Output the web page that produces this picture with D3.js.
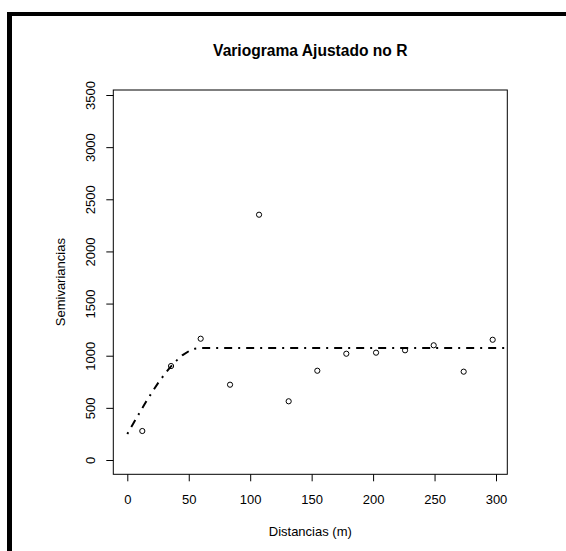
<!DOCTYPE html>
<html>
<head>
<meta charset="utf-8">
<script src="https://cdn.jsdelivr.net/npm/d3@7"></script>
<style>
  html, body { margin: 0; padding: 0; background: #fff; }
  svg { display: block; }
  text { font-family: "Liberation Sans", Arial, Helvetica, sans-serif; fill: #000; }
</style>
</head>
<body>
<script>
// ---- data ----
const distances = [12.2, 35.6, 59.7, 83.6, 107.2, 131.3, 154.6, 178.2, 202.4, 226.0, 249.3, 273.7, 297.3];
const semivariances = [278, 901, 1163, 722, 2352, 563, 856, 1019, 1029, 1052, 1100, 847, 1153];
const modelDistances = [0, 5, 10, 15, 20, 25, 30, 35, 40, 45, 50, 55, 60, 320];
const modelValues = [250, 353, 454, 553, 647, 737, 817, 890, 953, 1006, 1043, 1067, 1075, 1075];
const xTicks = [0, 50, 100, 150, 200, 250, 300];
const yTicks = [0, 500, 1000, 1500, 2000, 2500, 3000, 3500];
const titleText = "Variograma Ajustado no R";
const xLabel = "Distancias (m)";
const yLabel = "Semivariancias";

// ---- layout ----
const W = 566, H = 551;
const box = { left: 113.3, right: 507.3, top: 90, bottom: 474.3 };

const svg = d3.select("body").append("svg").attr("width", W).attr("height", H);
svg.append("rect").attr("width", W).attr("height", H).attr("fill", "#fff");

// outer black frame (left + top)
svg.append("rect").attr("x", 7).attr("y", 12).attr("width", W - 7).attr("height", 4).attr("fill", "#000");
svg.append("rect").attr("x", 7).attr("y", 12).attr("width", 5).attr("height", H - 12).attr("fill", "#000");

const x = d3.scaleLinear().domain([0, 300]).range([127.3, 496]);
const y = d3.scaleLinear().domain([0, 3500]).range([460, 95]);

// clip for plot region
svg.append("clipPath").attr("id", "plotclip").append("rect")
  .attr("x", box.left).attr("y", box.top)
  .attr("width", box.right - box.left).attr("height", box.bottom - box.top);

// box
svg.append("rect")
  .attr("x", box.left).attr("y", box.top)
  .attr("width", box.right - box.left).attr("height", box.bottom - box.top)
  .attr("fill", "none").attr("stroke", "#000").attr("stroke-width", 1);

// x axis
const xAxis = d3.axisBottom(x).tickValues(xTicks).tickSize(7).tickPadding(13).tickFormat(d3.format("d"));
const gx = svg.append("g").attr("transform", `translate(0,${box.bottom})`).call(xAxis);
gx.selectAll("text").attr("font-size", 13).attr("font-family", "Liberation Sans, Arial, sans-serif");
gx.select(".domain").remove();
gx.selectAll("line").attr("stroke", "#000");

// y axis
const yAxis = d3.axisLeft(y).tickValues(yTicks).tickSize(7).tickFormat(d3.format("d"));
const gy = svg.append("g").attr("transform", `translate(${box.left},0)`).call(yAxis);
gy.select(".domain").remove();
gy.selectAll("line").attr("stroke", "#000");
gy.selectAll("text")
  .attr("font-size", 13).attr("font-family", "Liberation Sans, Arial, sans-serif")
  .attr("x", null).attr("dy", null)
  .attr("text-anchor", "middle")
  .attr("transform", "translate(-18,0) rotate(-90)");

// model line
const line = d3.line().x((d, i) => x(modelDistances[i])).y(d => y(d));
svg.append("path")
  .attr("clip-path", "url(#plotclip)")
  .attr("d", line(modelValues))
  .attr("fill", "none").attr("stroke", "#000").attr("stroke-width", 2)
  .attr("stroke-dasharray", "2,6,8,6");

// points
svg.append("g").selectAll("circle").data(semivariances).join("circle")
  .attr("cx", (d, i) => x(distances[i])).attr("cy", d => y(d))
  .attr("r", 2.6).attr("fill", "none").attr("stroke", "#000").attr("stroke-width", 1);

// title & labels
const cx = (box.left + box.right) / 2;
svg.append("text").attr("x", cx).attr("y", 56).attr("text-anchor", "middle")
  .attr("font-size", 15.6).attr("font-weight", "bold").text(titleText);
svg.append("text").attr("x", cx).attr("y", 536).attr("text-anchor", "middle")
  .attr("font-size", 13).text(xLabel);
svg.append("text").attr("transform", `translate(65,${(box.top + box.bottom) / 2}) rotate(-90)`)
  .attr("text-anchor", "middle").attr("font-size", 13).text(yLabel);
</script>
</body>
</html>
